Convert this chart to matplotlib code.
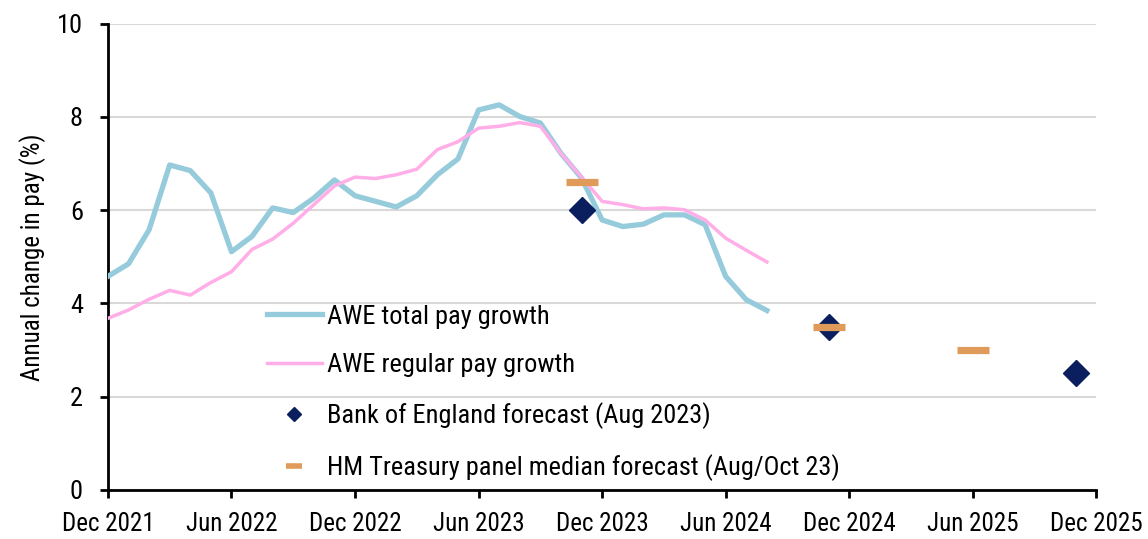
import matplotlib
matplotlib.use("Agg")
import matplotlib.pyplot as plt
from matplotlib.lines import Line2D
from matplotlib import font_manager

# Pick a condensed sans family if one is installed
_names = {f.name for f in font_manager.fontManager.ttflist}
_family = [n for n in ["Liberation Sans Narrow", "Roboto Condensed", "Arial Narrow"] if n in _names]
plt.rcParams["font.family"] = _family + ["Liberation Sans", "DejaVu Sans"]

# Monthly periods from Dec 2021 (index 0) to Dec 2025 (index 48)
tick_labels = ["Dec 2021", "Jun 2022", "Dec 2022", "Jun 2023", "Dec 2023",
               "Jun 2024", "Dec 2024", "Jun 2025", "Dec 2025"]
tick_months = [0, 6, 12, 18, 24, 30, 36, 42, 48]

# AWE annual growth, Dec 2021 .. Aug 2024
awe_total = [4.58, 4.85, 5.58, 6.97, 6.85, 6.37, 5.11, 5.44, 6.05, 5.95, 6.26,
             6.65, 6.31, 6.19, 6.07, 6.31, 6.76, 7.10, 8.15, 8.26, 8.01, 7.87,
             7.22, 6.69, 5.79, 5.65, 5.70, 5.90, 5.90, 5.69, 4.58, 4.08, 3.85]
awe_regular = [3.68, 3.86, 4.09, 4.28, 4.18, 4.45, 4.68, 5.16, 5.38, 5.72, 6.12,
               6.52, 6.71, 6.68, 6.76, 6.88, 7.30, 7.47, 7.76, 7.80, 7.88, 7.80,
               7.22, 6.71, 6.19, 6.12, 6.03, 6.05, 6.01, 5.79, 5.40, 5.14, 4.89]
awe_months = list(range(len(awe_total)))

# Forecasts
boe_months = [23, 35, 47]
boe_values = [6.0, 3.5, 2.5]
hmt_months = [23, 35, 42]
hmt_values = [6.6, 3.5, 3.0]

c_total = "#96CBDC"
c_regular = "#FFAEE8"
c_boe = "#0B1F5E"
c_hmt = "#E09A5A"
c_grid = "#D9D9D9"

fig = plt.figure(figsize=(11.48, 5.39), dpi=100)
ax = fig.add_axes([0.094, 0.091, 0.861, 0.865])

ax.plot(awe_months, awe_total, color=c_total, lw=3.8, zorder=3)
ax.plot(awe_months, awe_regular, color=c_regular, lw=2.5, zorder=4)
ax.plot(boe_months, boe_values, ls="none", marker="D", ms=13.5, color=c_boe,
        mec=c_boe, zorder=5)
ax.plot(hmt_months, hmt_values, ls="none", marker="_", ms=23, mew=5.2,
        color=c_hmt, zorder=6)

ax.set_xlim(0, 48)
ax.set_ylim(0, 10)
ax.set_yticks([0, 2, 4, 6, 8, 10])
ax.set_xticks(tick_months)
ax.set_xticklabels(tick_labels)
ax.grid(axis="y", color=c_grid, lw=1.5)
ax.set_axisbelow(True)

for s in ["top", "right"]:
    ax.spines[s].set_visible(False)
for s in ["left", "bottom"]:
    ax.spines[s].set_linewidth(2)
    ax.spines[s].set_color("black")

ax.tick_params(axis="y", direction="out", length=6, width=2, pad=12, labelsize=19)
ax.tick_params(axis="x", direction="out", length=6, width=2, pad=10, labelsize=18)
ax.set_ylabel("Annual change in pay (%)", fontsize=18, labelpad=8)

handles = [
    Line2D([], [], color=c_total, lw=3.8),
    Line2D([], [], color=c_regular, lw=2.5),
    Line2D([], [], ls="none", marker="D", ms=7, color=c_boe),
    Line2D([], [], ls="none", marker="_", ms=11, mew=4, color=c_hmt),
]
labels = ["AWE total pay growth", "AWE regular pay growth",
          "Bank of England forecast (Aug 2023)",
          "HM Treasury panel median forecast (Aug/Oct 23)"]
ax.legend(handles, labels, loc="upper left", bbox_to_anchor=(0.150, 0.42),
          frameon=False, fontsize=19, handlelength=2.1, handletextpad=0.2,
          labelspacing=0.94, borderaxespad=0)

fig.savefig("out.png", dpi=100)
